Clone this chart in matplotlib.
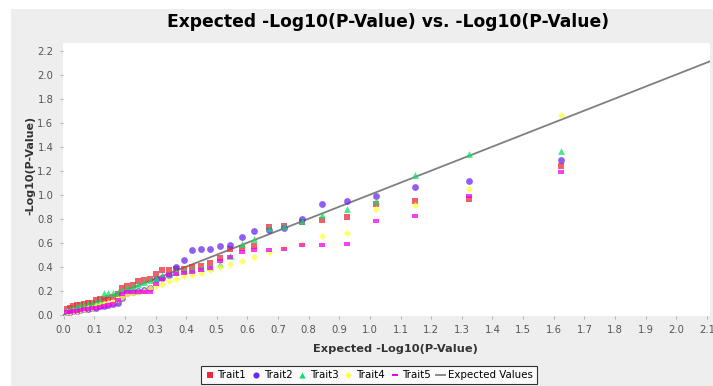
import numpy as np
import matplotlib
matplotlib.use("Agg")
import matplotlib.pyplot as plt

plt.rcParams['font.family'] = ['DejaVu Sans']

# expected -log10(p), largest first
expected = [1.623, 1.322, 1.146, 1.021, 0.924, 0.845, 0.778, 0.720, 0.669, 0.623,
            0.582, 0.544, 0.509, 0.477, 0.447, 0.419, 0.393, 0.368, 0.345, 0.322,
            0.301, 0.281, 0.262, 0.243, 0.225, 0.208, 0.192, 0.176, 0.161, 0.146,
            0.132, 0.118, 0.105, 0.092, 0.079, 0.067, 0.055, 0.043, 0.032, 0.021,
            0.010]

trait1 = [1.24, 0.96, 0.95, 0.92, 0.81, 0.79, 0.77, 0.74, 0.73, 0.57,
          0.56, 0.55, 0.47, 0.43, 0.41, 0.40, 0.385, 0.38, 0.375, 0.37,
          0.34, 0.30, 0.29, 0.28, 0.25, 0.24, 0.22, 0.17, 0.15, 0.14,
          0.135, 0.13, 0.12, 0.10, 0.095, 0.09, 0.085, 0.08, 0.07, 0.06,
          0.05]
trait2 = [1.29, 1.11, 1.06, 0.99, 0.95, 0.92, 0.80, 0.72, 0.71, 0.70,
          0.65, 0.58, 0.57, 0.55, 0.55, 0.54, 0.46, 0.40, 0.33, 0.31,
          0.30, 0.22, 0.21, 0.20, 0.19, 0.18, 0.14, 0.10, 0.09, 0.085,
          0.075, 0.07, 0.06, 0.055, 0.05, 0.045, 0.04, 0.035, 0.03, 0.025,
          0.02]
trait3 = [1.36, 1.34, 1.16, 0.95, 0.88, 0.83, 0.78, 0.74, 0.72, 0.63,
          0.59, 0.49, 0.42, 0.40, 0.39, 0.38, 0.37, 0.36, 0.34, 0.33,
          0.31, 0.29, 0.27, 0.26, 0.24, 0.23, 0.21, 0.19, 0.18, 0.18,
          0.18, 0.12, 0.11, 0.10, 0.09, 0.085, 0.08, 0.07, 0.06, 0.05,
          0.04]
trait4 = [1.66, 1.05, 0.91, 0.88, 0.68, 0.66, 0.59, 0.56, 0.52, 0.48,
          0.45, 0.42, 0.40, 0.37, 0.35, 0.33, 0.32, 0.30, 0.28, 0.26,
          0.24, 0.22, 0.20, 0.19, 0.18, 0.17, 0.15, 0.13, 0.11, 0.10,
          0.09, 0.08, 0.07, 0.06, 0.055, 0.05, 0.04, 0.035, 0.03, 0.025,
          0.02]
trait5 = [1.19, 0.99, 0.82, 0.78, 0.59, 0.58, 0.58, 0.55, 0.54, 0.54,
          0.52, 0.48, 0.45, 0.39, 0.37, 0.36, 0.35, 0.34, 0.33, 0.30,
          0.26, 0.19, 0.19, 0.19, 0.19, 0.19, 0.17, 0.12, 0.09, 0.08,
          0.07, 0.065, 0.06, 0.055, 0.05, 0.045, 0.04, 0.035, 0.03, 0.025,
          0.02]
expected_line = [0.0, 2.2]

names = ['Trait1', 'Trait2', 'Trait3', 'Trait4', 'Trait5']
series = [trait1, trait2, trait3, trait4, trait5]
colors = ['#ee2a3a', '#6a28ee', '#11dd66', '#ffff33', '#ee00ee']
hbar = [(-1, -0.45), (1, -0.45), (1, 0.45), (-1, 0.45)]
markers = ['s', 'o', '^', 'D', hbar]
sizes = [21, 24, 24, 13, 24]

fig = plt.figure(figsize=(7.13, 3.86), dpi=100)
fig.patch.set_facecolor('white')
# grey chart panel
fig.patches.append(plt.Rectangle((11 / 713, 0), 1, 1 - 9 / 386, transform=fig.transFigure,
                                 facecolor='#eeeeee', edgecolor='none', zorder=-10))

ax = fig.add_axes([63 / 713, 1 - 316 / 386, 647 / 713, (316 - 42.7) / 386])
ax.set_facecolor('white')

for y, name, c, m, s in zip(series, names, colors, markers, sizes):
    ax.scatter(expected, y, marker=m, s=s, color=c, alpha=0.75, linewidths=0, label=name, zorder=3)
ax.plot(expected_line, expected_line, color='#7f7f7f', lw=1.3, label='Expected Values', zorder=2)

ax.set_xlim(-0.002, 2.11)
ax.set_ylim(-0.01, 2.265)
ax.set_xticks(np.arange(0, 2.15, 0.1))
ax.set_yticks(np.arange(0, 2.25, 0.2))
ax.xaxis.set_major_formatter(matplotlib.ticker.FormatStrFormatter('%.1f'))
ax.yaxis.set_major_formatter(matplotlib.ticker.FormatStrFormatter('%.1f'))
ax.tick_params(labelsize=7.2, labelcolor='#555555', color='#aaaaaa', length=2.5, width=0.6)
ax.tick_params(axis='x', pad=4)
ax.tick_params(axis='y', pad=4.5)
for sp in ax.spines.values():
    sp.set_visible(False)

fig.text(388 / 713, 1 - 22 / 386, 'Expected -Log10(P-Value) vs. -Log10(P-Value)',
         ha='center', va='center', fontsize=12.3, fontweight='bold')
fig.text(395 / 713, 1 - 349 / 386, 'Expected -Log10(P-Value)',
         ha='center', va='center', fontsize=8.2, fontweight='bold', color='#333333')
fig.text(30 / 713, 1 - 165.5 / 386, '-Log10(P-Value)', rotation=90,
         ha='center', va='center', fontsize=8.0, fontweight='bold', color='#333333')

handles, labels = ax.get_legend_handles_labels()
leg = fig.legend(handles, labels, loc='upper left', bbox_to_anchor=(201 / 713, 1 - 366 / 386),
                 ncol=6, fontsize=7.4, frameon=True, fancybox=False, edgecolor='black',
                 handlelength=0.9, handletextpad=0.3, columnspacing=0.5, borderpad=0.4,
                 borderaxespad=0, markerscale=0.9)
leg.get_frame().set_linewidth(0.8)
for lh in leg.legend_handles[:5]:
    lh.set_alpha(1.0)

fig.savefig('out.png', dpi=100)
